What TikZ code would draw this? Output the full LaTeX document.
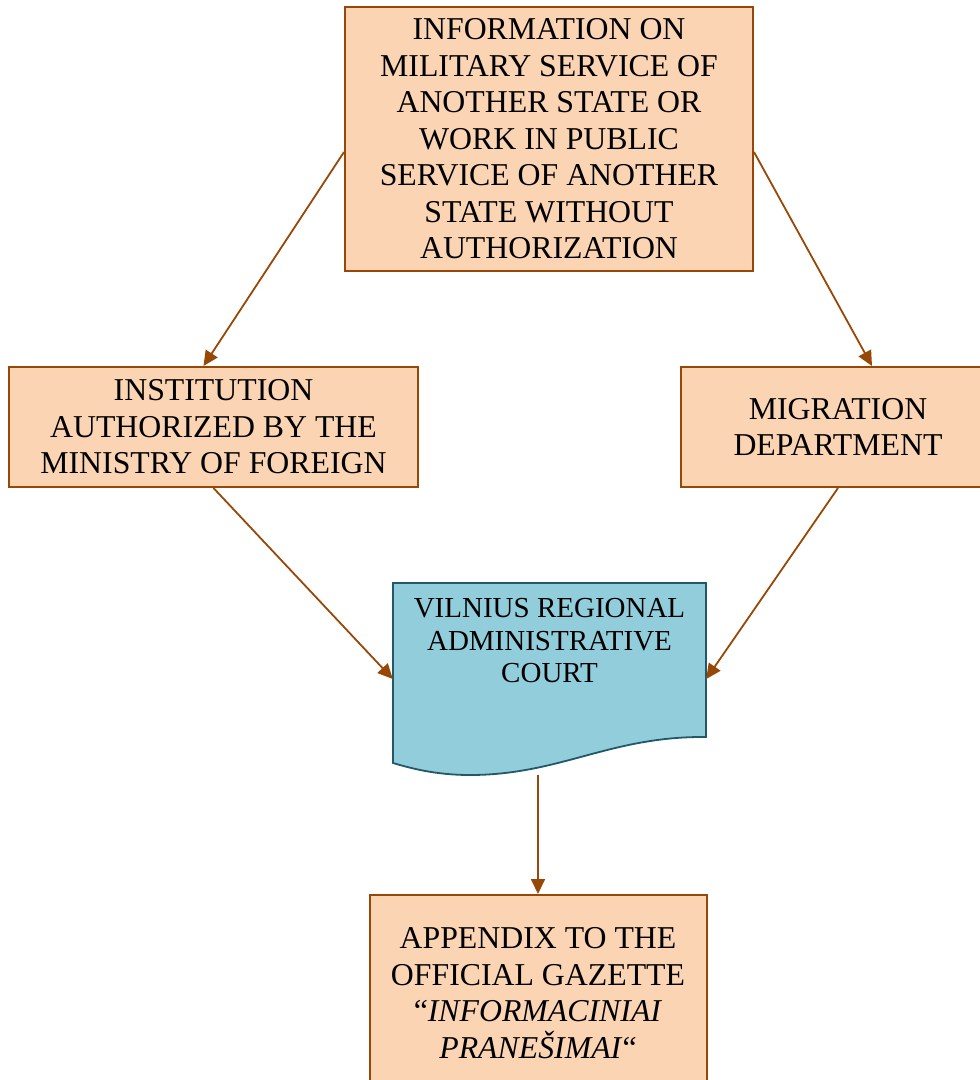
\documentclass[tikz,border=0pt]{standalone}
\usepackage{fontspec}
\setmainfont{Liberation Serif}
\usetikzlibrary{arrows.meta}
\definecolor{peach}{HTML}{FBD4B4}
\definecolor{brownline}{HTML}{984806}
\definecolor{docfill}{HTML}{92CDDC}
\definecolor{docline}{HTML}{215968}
\tikzset{
  box/.style={draw=brownline, fill=peach, line width=2pt, inner sep=0pt, align=center,
    font=\fontsize{31.8}{36.5}\selectfont},
  conn/.style={draw=brownline, line width=1.8pt, -{Triangle[length=15pt,width=14pt]}},
}
\begin{document}
\begin{tikzpicture}[x=1pt,y=-1pt]
\useasboundingbox (0,0) rectangle (980,1080);
% top box
\node[box, minimum width=408pt, minimum height=264pt] (top) at (549,139)
  {INFORMATION ON\\MILITARY SERVICE OF\\ANOTHER STATE OR\\WORK IN PUBLIC\\SERVICE OF ANOTHER\\STATE WITHOUT\\AUTHORIZATION};
% left box
\node[box, minimum width=409pt, minimum height=120pt] (left) at (213.5,427)
  {INSTITUTION\\AUTHORIZED BY THE\\MINISTRY OF FOREIGN};
% right box
\node[box, minimum width=314pt, minimum height=120pt] (right) at (838,427)
  {MIGRATION\\DEPARTMENT};
% document shape
\draw[docline, fill=docfill, line width=1.8pt]
  (393,583) -- (706,583) -- (706,737)
  .. controls (610,736) and (560,775) .. (470,775)
  .. controls (435,775) and (410,768) .. (393,763) -- cycle;
\node[minimum width=313pt, minimum height=192pt, inner sep=0pt] (doc) at (549.5,679) {};
\node[align=center, inner sep=0pt, font=\fontsize{29}{32.5}\selectfont] (doctext) at (549.5,641)
  {VILNIUS REGIONAL\\ADMINISTRATIVE\\COURT};
% bottom box
\node[box, minimum width=337pt, minimum height=196pt] (bottom) at (538,993)
  {APPENDIX TO THE\\OFFICIAL GAZETTE\\“\textit{INFORMACINIAI}\\\textit{PRANEŠIMAI}“};
% connectors
\draw[conn] ([yshift=-13pt]top.west) -- ([xshift=-10pt]left.north);
\draw[conn] ([yshift=-13pt]top.east) -- ([xshift=34pt]right.north);
\draw[conn] (left.south) -- (doc.west);
\draw[conn] (right.south) -- (doc.east);
\draw[conn] (doc.south -| bottom.north) -- (bottom.north);
\end{tikzpicture}
\end{document}
